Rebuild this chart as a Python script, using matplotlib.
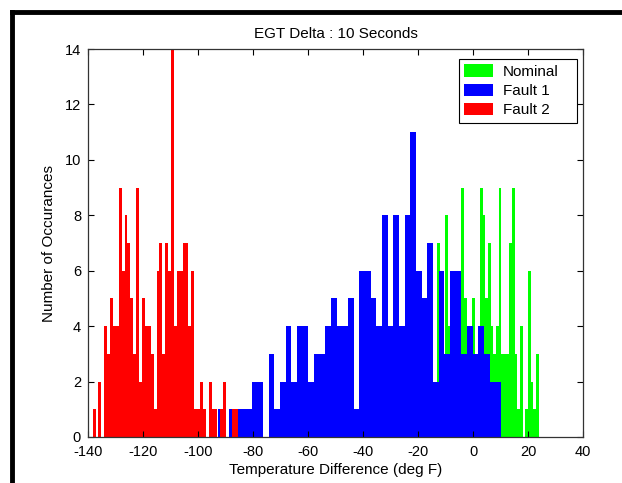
import numpy as np
import matplotlib
matplotlib.use("Agg")
import matplotlib.pyplot as plt
from matplotlib.patches import Patch
from matplotlib.lines import Line2D

# histogram counts, 50 bins per series (start of first bin, bin width, counts)
nominal_start, nominal_width = -24.65, 0.97
nominal_counts = [1, 0, 1, 0, 1, 1, 2, 1, 3, 2,
                  1, 2, 7, 2, 3, 8, 4, 6, 3, 5,
                  4, 9, 5, 4, 3, 5, 3, 3, 9, 8,
                  5, 7, 4, 3, 4, 9, 3, 3, 3, 7,
                  9, 3, 1, 4, 0, 1, 6, 2, 1, 3]

fault1_start, fault1_width = -92.8, 2.06
fault1_counts = [1, 0, 1, 1, 1, 1, 2, 2, 0, 3,
                 1, 2, 4, 2, 4, 4, 2, 3, 3, 4,
                 5, 4, 4, 5, 1, 6, 6, 5, 4, 8,
                 4, 8, 4, 8, 11, 6, 5, 7, 2, 6,
                 3, 6, 6, 3, 4, 3, 4, 3, 2, 2]

fault2_start, fault2_width = -138.3, 1.055
fault2_counts = [1, 0, 2, 0, 4, 3, 5, 4, 4, 9,
                 6, 8, 7, 5, 3, 9, 2, 5, 4, 4,
                 3, 1, 6, 7, 3, 7, 6, 14, 4, 6,
                 6, 7, 7, 4, 6, 1, 1, 2, 1, 0,
                 2, 1, 1, 0, 1, 2, 0, 0, 1, 1]

series = [
    ("Nominal", nominal_start, nominal_width, nominal_counts, (0, 1, 0)),
    ("Fault 1", fault1_start, fault1_width, fault1_counts, (0, 0, 1)),
    ("Fault 2", fault2_start, fault2_width, fault2_counts, (1, 0, 0)),
]

x_ticks = list(range(-140, 41, 20))
y_ticks = list(range(0, 15, 2))

plt.rcParams["font.family"] = ["Liberation Sans", "DejaVu Sans"]
plt.rcParams["axes.unicode_minus"] = False

W, H = 622, 483
fig = plt.figure(figsize=(W / 100, H / 100), dpi=100)
fig.patch.set_facecolor("white")
ax = fig.add_axes([88 / W, 46 / H, 495 / W, 388 / H])

handles = []
for name, start, width, counts, color in series:
    left = start + width * np.arange(len(counts))
    ax.bar(left, counts, width=width, align="edge", color=color, linewidth=0)
    handles.append(Patch(facecolor=color, edgecolor="none", label=name))

ax.set_xlim(-140, 40)
ax.set_ylim(0, 14)
ax.set_xticks(x_ticks)
ax.set_yticks(y_ticks)
ax.tick_params(direction="in", length=4, width=0.8, top=True, right=True,
               labelsize=10.5)
ax.tick_params(axis="x", pad=5.5)
ax.tick_params(axis="y", pad=5)
for s in ax.spines.values():
    s.set_linewidth(0.9)
    s.set_color("#333333")

ax.set_title("EGT Delta : 10 Seconds", fontsize=11, pad=8)
ax.set_xlabel("Temperature Difference (deg F)", fontsize=11, labelpad=3)
ax.set_ylabel("Number of Occurances", fontsize=11, labelpad=6.5)

leg = ax.legend(handles=handles, loc="upper left",
                bbox_to_anchor=(0.7495, 0.8142, 0.2384, 0.16), mode="expand",
                borderaxespad=0, fancybox=False, framealpha=1, edgecolor="black",
                fontsize=11, handlelength=1.85, handleheight=0.9,
                handletextpad=0.65, labelspacing=0.3, borderpad=0.35)
leg.get_frame().set_linewidth(0.8)

# thick black frame along the left and top edges
fig.add_artist(Line2D([12 / W, 12 / W], [0, 1 - 12 / H], color="black", linewidth=3.5,
                      solid_capstyle="projecting", transform=fig.transFigure))
fig.add_artist(Line2D([12 / W, 1], [1 - 12 / H, 1 - 12 / H], color="black", linewidth=3.5,
                      solid_capstyle="projecting", transform=fig.transFigure))

fig.savefig("out.png", dpi=100)
